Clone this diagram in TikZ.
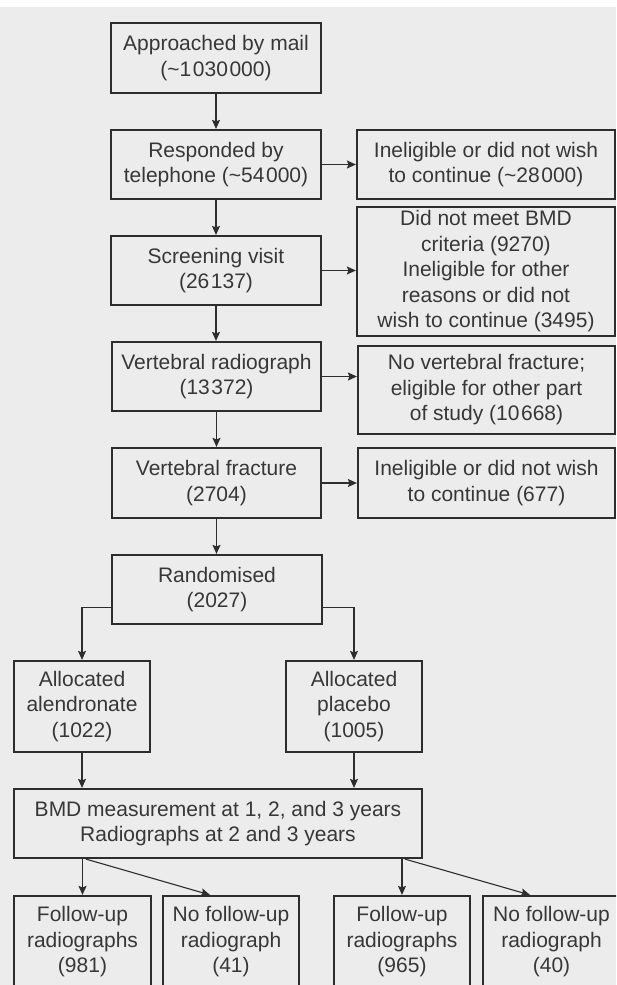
\documentclass[tikz,border=0pt]{standalone}
\usepackage{fontspec}
\setmainfont{Liberation Sans}
\usetikzlibrary{arrows.meta,calc}
\definecolor{bgc}{RGB}{236,236,236}
\definecolor{inkc}{RGB}{45,45,45}
\definecolor{txtc}{RGB}{55,55,55}
\newcommand{\tsp}{\kern1.6pt}
\begin{document}
\begin{tikzpicture}[x=1pt,y=-1pt,
  box/.style={draw=inkc,line width=2.2pt,inner sep=0pt,align=center,text=txtc,
    font=\fontsize{21}{25.5}\selectfont},
  arr/.style={draw=inkc,line width=1.1pt,-{Stealth[length=9pt,width=8pt,inset=1.5pt]}},
  ln/.style={draw=inkc,line width=1.1pt}]
\useasboundingbox (0,0) rectangle (616,985);
\clip (0,0) rectangle (616,985);
\fill[bgc] (0,0) rectangle (616,985);
\fill[white] (0,0) rectangle (616,7);
% main column
\node[box,minimum width=210,minimum height=70] (A) at (216,58) {Approached by mail\\(\textasciitilde 1\tsp 030\tsp 000)};
\node[box,minimum width=210,minimum height=69] (B) at (216,164.5) {Responded by\\telephone (\textasciitilde 54\tsp 000)};
\node[box,minimum width=210,minimum height=69] (C) at (216,270.5) {Screening visit\\(26\tsp 137)};
\node[box,minimum width=209,minimum height=69] (D) at (216.5,376.5) {Vertebral radiograph\\(13\tsp 372)};
\node[box,minimum width=209,minimum height=70] (E) at (216.5,483) {Vertebral fracture\\(2704)};
\node[box,minimum width=210,minimum height=69] (F) at (217,589.5) {Randomised\\(2027)};
% right column
\node[box,minimum width=258,minimum height=69] (R1) at (486,164.5) {Ineligible or did not wish\\to continue (\textasciitilde 28\tsp 000)};
\node[box,minimum width=258,minimum height=129] (R2) at (486,271.5) {Did not meet BMD\\criteria (9270)\\Ineligible for other\\reasons or did not\\wish to continue (3495)};
\node[box,minimum width=257,minimum height=88] (R3) at (486.5,390) {No vertebral fracture;\\eligible for other part\\of study (10\tsp 668)};
\node[box,minimum width=257,minimum height=70] (R4) at (486.5,483) {Ineligible or did not wish\\to continue (677)};
% allocation
\node[box,minimum width=136,minimum height=91] (G1) at (82,706.5) {Allocated\\alendronate\\(1022)};
\node[box,minimum width=136,minimum height=91] (G2) at (354,706.5) {Allocated\\placebo\\(1005)};
\node[box,minimum width=408,minimum height=69] (H) at (218,823.5) {BMD measurement at 1, 2, and 3 years\\Radiographs at 2 and 3 years};
% follow-up
\node[box,minimum width=137,minimum height=92] (I1) at (82.5,942) {Follow-up\\radiographs\\(981)};
\node[box,minimum width=136,minimum height=92] (I2) at (231,942) {No follow-up\\radiograph\\(41)};
\node[box,minimum width=136,minimum height=92] (I3) at (402,942) {Follow-up\\radiographs\\(965)};
\node[box,minimum width=137,minimum height=92] (I4) at (551.5,942) {No follow-up\\radiograph\\(40)};
% connectors
\draw[arr] (A) -- (B);
\draw[arr] (B) -- (R1);
\draw[arr] (B) -- (C);
\draw[arr] (C.east) -- (C.east -| R2.west);
\draw[arr] (C.south) -- (C.south |- D.north);
\draw[arr] (D.east) -- (D.east -| R3.west);
\draw[arr] (D) -- (E);
\draw[arr] (E) -- (R4);
\draw[arr] (E.south) -- (E.south |- F.north);
\draw[arr] ([yshift=18pt]F.south west) -| (G1.north);
\draw[arr] ([yshift=18pt]F.south east) -| (G2.north);
\draw[arr] (G1.south) -- (G1.south |- H.north);
\draw[arr] (G2.south) -- (G2.south |- H.north);
\draw[arr] (H.south -| I1.north) -- (I1.north);
\draw[arr] ([xshift=3.5pt]H.south -| I1.north) -- ([xshift=-21pt]I2.north);
\draw[arr] (H.south -| I3.north) -- (I3.north);
\draw[arr] ([xshift=3pt]H.south -| I3.north) -- ([xshift=-21.5pt]I4.north);
\end{tikzpicture}
\end{document}
